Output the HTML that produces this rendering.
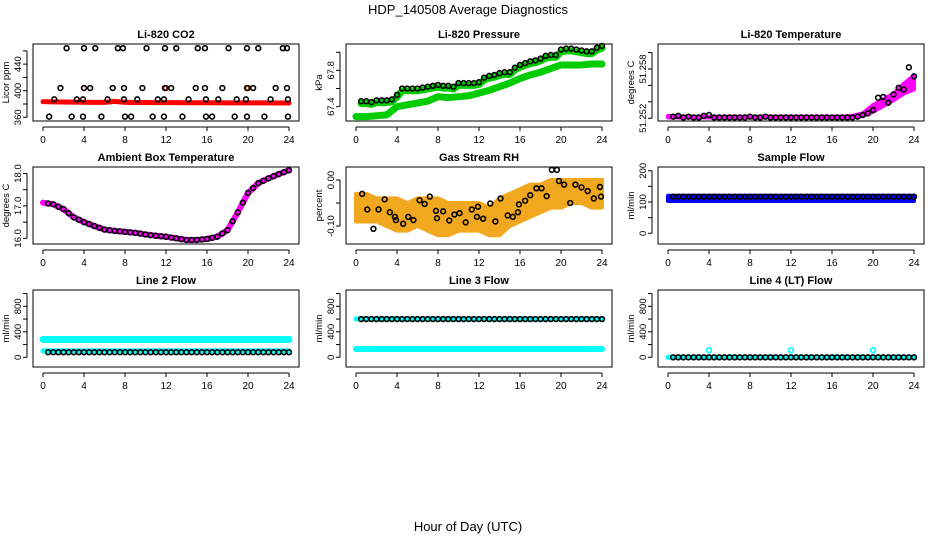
<!DOCTYPE html>
<html><head><meta charset="utf-8">
<style>
body{margin:0;background:#fff;}
svg{display:block;font-family:"Liberation Sans",sans-serif;}
</style></head>
<body>
<svg id="chart" width="936" height="540" viewBox="0 0 936 540">
<text x="468" y="14" text-anchor="middle" font-size="13">HDP_140508  Average Diagnostics</text>
<text x="468" y="531" text-anchor="middle" font-size="13">Hour of Day (UTC)</text>
</svg>
<script>
// ---- data ----
const hoursTicks = [0,4,8,12,16,20,24];
const halfHours = [0.5,1,1.5,2,2.5,3,3.5,4,4.5,5,5.5,6,6.5,7,7.5,8,8.5,9,9.5,10,10.5,11,11.5,12,12.5,13,13.5,14,14.5,15,15.5,16,16.5,17,17.5,18,18.5,19,19.5,20,20.5,21,21.5,22,22.5,23,23.5,24];
const hourly = [0,1,2,3,4,5,6,7,8,9,10,11,12,13,14,15,16,17,18,19,20,21,22,23,24];

// CO2
const co2BlackX = [2.3,4,5.1,7.3,7.8,10.1,11.9,13,15.1,15.8,18.1,19.9,21,23.4,23.8, 1.7,4,4.6,6.8,7.9,9.7,11.9,12.5,14.9,15.8,17.5,19.9,20.5,22.7,23.8, 1.1,3.3,3.9,6.3,7.9,9.2,11.2,11.8,14.2,15.9,17.1,18.9,19.8,22.2,23.9, 0.6,2.8,3.9,5.7,8,8.6,10.7,11.8,13.6,15.9,16.5,18.7,19.9,21.6,23.9];
const co2BlackY = [464,464,464,464,464,464,464,464,464,464,464,464,464,464,464, 404,404,404,404,404,404,404,404,404,404,404,404,404,404,404, 387,387,387,387,387,387,387,387,387,387,387,387,387,387,387, 361,361,361,361,361,361,361,361,361,361,361,361,361,361,361];
const co2RedBand = [383.5,383.2,383,382.8,382.6,382.5,382.4,384,382.5,382.3,382.2,382.1,382,382,381.9,381.9,381.8,381.8,381.7,381.7,381.6,381.6,381.6,381.5,381.5];
const co2RedX = [4,12,20];
const co2RedY = [404,404,404];

// Pressure
const presBlack = [67.46,67.46,67.45,67.47,67.47,67.47,67.48,67.53,67.6,67.6,67.6,67.6,67.61,67.62,67.63,67.64,67.63,67.63,67.62,67.66,67.66,67.66,67.66,67.67,67.72,67.74,67.75,67.77,67.78,67.78,67.83,67.86,67.88,67.9,67.91,67.93,67.96,67.97,67.97,68.03,68.04,68.04,68.03,68.02,68.01,68.01,68.05,68.07];
const presGreenLow = [67.29,67.29,67.3,67.31,67.4,67.42,67.44,67.46,67.51,67.5,67.51,67.52,67.55,67.58,67.62,67.66,67.71,67.75,67.78,67.82,67.86,67.86,67.86,67.87,67.87];

// Li-820 temperature
const tempBlack = [51.2522,51.2523,51.2521,51.2522,51.2521,51.2521,51.2523,51.2524,51.2521,51.2521,51.2521,51.2521,51.2521,51.2521,51.2521,51.2522,51.2521,51.2521,51.2522,51.2521,51.2521,51.2521,51.2521,51.2521,51.2521,51.2521,51.2521,51.2521,51.2521,51.2521,51.2521,51.2521,51.2521,51.2521,51.2521,51.2521,51.2522,51.2524,51.2526,51.2530,51.2545,51.2546,51.2539,51.2549,51.2557,51.2555,51.2582,51.2571];
const tempMagenta = [51.2523,51.2522,51.2522,51.2522,51.2522,51.2522,51.2522,51.2522,51.2522,51.2522,51.2522,51.2522,51.2522,51.2522,51.2522,51.2522,51.2522,51.2522,51.2523,51.2526,51.2536,51.2543,51.2550,51.2562,51.2572];
const tempMagentaLow = [51.2521,51.2521,51.2521,51.2521,51.2521,51.2521,51.2521,51.2521,51.2521,51.2521,51.2521,51.2521,51.2521,51.2521,51.2521,51.2521,51.2521,51.2521,51.2521,51.2523,51.2528,51.2535,51.2542,51.2550,51.2555];

// Ambient box temperature
const ambient = [17.1,17.05,16.9,16.65,16.5,16.38,16.27,16.23,16.2,16.17,16.12,16.08,16.05,16.0,15.95,15.95,15.98,16.05,16.25,16.8,17.4,17.7,17.85,17.98,18.1];

// Gas stream RH
const rhUpper = [-0.03,-0.03,-0.04,-0.04,-0.04,-0.05,-0.04,-0.04,-0.04,-0.05,-0.05,-0.05,-0.05,-0.06,-0.04,-0.03,-0.02,-0.01,-0.01,0.0,0.0,0.0,0.0,0.0,0.0];
const rhLower = [-0.09,-0.09,-0.09,-0.10,-0.11,-0.11,-0.10,-0.11,-0.12,-0.12,-0.11,-0.11,-0.11,-0.12,-0.12,-0.10,-0.09,-0.08,-0.07,-0.06,-0.06,-0.05,-0.05,-0.06,-0.06];
const rhBlackX = [0.6,1.1,1.7,2.2,2.8,3.3,3.8,3.9,4.6,5.1,5.6,6.2,6.7,7.2,7.8,7.9,8.5,9.1,9.6,10.1,10.7,11.3,11.8,11.9,12.4,13.1,13.6,14.1,14.8,15.3,15.8,15.9,16.5,17.0,17.6,18.1,18.6,19.1,19.6,19.8,20.3,20.9,21.4,22.0,22.6,23.2,23.8,23.9];
const rhBlackY = [-0.03,-0.064,-0.106,-0.064,-0.042,-0.07,-0.08,-0.087,-0.095,-0.08,-0.087,-0.044,-0.052,-0.036,-0.067,-0.083,-0.068,-0.088,-0.075,-0.072,-0.092,-0.064,-0.08,-0.058,-0.084,-0.051,-0.09,-0.04,-0.077,-0.08,-0.07,-0.053,-0.045,-0.033,-0.018,-0.018,-0.035,0.022,0.022,-0.002,-0.01,-0.05,-0.01,-0.016,-0.024,-0.04,-0.015,-0.036];

// Flows
const sampleBlack = 117;
const sampleBlueLow = 103, sampleBlueHigh = 120;
const line2Cyan = [280,100];
const line2Black = 80;
const line3Cyan = [600,130];
const line3Black = 600;
const line4Cyan = [0];
const line4SpikeX = [4,12,20];
const line4SpikeY = [110,110,110];
const line4Black = 0;

// ---- drawing ----
const NS = "http://www.w3.org/2000/svg";
const svg = document.getElementById('chart');
function el(tag, attrs, parent){
  const e = document.createElementNS(NS, tag);
  for (const k in attrs) e.setAttribute(k, attrs[k]);
  (parent||svg).appendChild(e);
  return e;
}
const colLeft = [33,346,658], rowTop = [44,167,290], PW = 266, PH = 77;

function makePanel(col,row,title,ylab,dom,ticks,labels,name){
  const L = colLeft[col], T = rowTop[row];
  const g = el('g',{});
  
  
  const xs = h => L + 10 + h*(246/24);
  const ys = v => T + PH - (v-dom[0])/(dom[1]-dom[0])*PH;
  const box = el('rect',{x:L,y:T,width:PW,height:PH,fill:'none',stroke:'#000','stroke-width':1},g);
  
  
  const t = el('text',{x:L+PW/2,y:T-6,'text-anchor':'middle','font-size':11,'font-weight':'bold'},g);
  t.textContent = title;
  
  
  // x axis
  el('line',{x1:xs(0),x2:xs(24),y1:T+PH+6,y2:T+PH+6,stroke:'#000'},g);
  hoursTicks.forEach(h=>{
    el('line',{x1:xs(h),x2:xs(h),y1:T+PH+6,y2:T+PH+10,stroke:'#000'},g);
    const tx = el('text',{x:xs(h),y:T+PH+22,'text-anchor':'middle','font-size':10},g);
    tx.textContent = h;
    
    
  });
  // y axis
  el('line',{x1:L-6,x2:L-6,y1:ys(ticks[0]),y2:ys(ticks[ticks.length-1]),stroke:'#000'},g);
  ticks.forEach((v,i)=>{
    el('line',{x1:L-10,x2:L-6,y1:ys(v),y2:ys(v),stroke:'#000'},g);
    if (labels[i]!==''){
      const tx = el('text',{x:L-12,y:ys(v),'text-anchor':'middle','font-size':9.5,transform:`rotate(-90 ${L-12} ${ys(v)})`},g);
      tx.textContent = labels[i];
      
      
    }
  });
  const yl = el('text',{x:L-24,y:T+PH/2,'text-anchor':'middle','font-size':9.5,transform:`rotate(-90 ${L-24} ${T+PH/2})`},g);
  yl.textContent = ylab;
  
  
  return {g,xs,ys};
}
function circles(p,X,Y,color,name,r){
  X.forEach((x,i)=>{
    const c = el('circle',{cx:p.xs(x),cy:p.ys(Y[i]),r:r||2.4,fill:'none',stroke:color,'stroke-width':1.6},p.g);
    
    
  });
}
function band(p,X,Y,color,width,name){
  const pts = X.map((x,i)=>p.xs(x)+','+p.ys(Y[i])).join(' ');
  const l = el('polyline',{points:pts,fill:'none',stroke:color,'stroke-width':width,'stroke-linejoin':'round','stroke-linecap':'round'},p.g);
  
  
}
function area(p,X,lo,hi,color,name){
  const pts = X.map((x,i)=>p.xs(x)+','+p.ys(hi[i])).concat(X.slice().reverse().map((x,j)=>{const i=X.length-1-j;return p.xs(x)+','+p.ys(lo[i]);})).join(' ');
  const a = el('polygon',{points:pts,fill:color,stroke:color,'stroke-width':4,'stroke-linejoin':'round'},p.g);
  
  
}
const constArr = (v)=>hourly.map(()=>v);
const constHalf = (v)=>halfHours.map(()=>v);

// Panel 1 CO2
let p = makePanel(0,0,'Li-820 CO2','Licor ppm',[354.4,470.3],[360,380,400,420,440,460],['360','','400','','440',''],'co2');
band(p,hourly,co2RedBand,'#ff0000',5,'co2-red-series');
circles(p,co2RedX,co2RedY,'#ff0000','co2-red-point');
circles(p,co2BlackX,co2BlackY,'#000','co2-point');

// Panel 2 Pressure
p = makePanel(1,0,'Li-820 Pressure','kPa',[67.242,68.091],[67.4,67.6,67.8,68.0],['67.4','','67.8',''],'pressure');
band(p,hourly,presGreenLow,'#00cc00',7,'pressure-green-low');
band(p,halfHours,presBlack.map(v=>v-0.025),'#00cc00',7,'pressure-green-high');
circles(p,halfHours,presBlack,'#000','pressure-point');

// Panel 3 Temperature
p = makePanel(2,0,'Li-820 Temperature','degrees C',[51.25167,51.26104],[51.252,51.254,51.256,51.258,51.260],['51.252','','','51.258',''],'temperature');
area(p,hourly,tempMagentaLow,tempMagenta,'#ff00ff','temperature-magenta');
circles(p,halfHours,tempBlack,'#000','temperature-point');

// Panel 4 Ambient
p = makePanel(0,1,'Ambient Box Temperature','degrees C',[15.825,18.2],[16,16.5,17,17.5,18],['16.0','','17.0','','18.0'],'ambient');
band(p,hourly,ambient,'#ff00ff',6,'ambient-magenta');
circles(p,hourly.slice(1).map(h=>h-0.5).concat(hourly.slice(1)).sort((a,b)=>a-b),
  hourly.slice(1).map((h,i)=>(ambient[i]+ambient[i+1])/2).flatMap((v,i)=>[v,ambient[i+1]]),'#000','ambient-point');

// Panel 5 RH
p = makePanel(1,1,'Gas Stream RH','percent',[-0.139,0.0283],[-0.10,-0.05,0.0],['-0.10','','0.00'],'rh');
area(p,hourly,rhLower,rhUpper,'#f2a81e','rh-cloud');
circles(p,rhBlackX,rhBlackY,'#000','rh-point');

// Panel 6 Sample flow
p = makePanel(2,1,'Sample Flow','ml/min',[-34.2,211.8],[0,50,100,150,200],['0','','100','','200'],'sample-flow');
area(p,hourly,constArr(sampleBlueLow),constArr(sampleBlueHigh),'#0000ff','sample-blue');
circles(p,halfHours,constHalf(sampleBlack),'#000','sample-point');

// Row 3 flows
const flowTicks=[0,200,400,600,800,1000], flowLabels=['0','','400','','800',''];
const fdom=[-152,1055.7];
p = makePanel(0,2,'Line 2 Flow','ml/min',fdom,flowTicks,flowLabels,'line2');
band(p,hourly,constArr(line2Cyan[0]),'#00ffff',7,'line2-cyan-high');
band(p,hourly,constArr(line2Cyan[1]),'#00ffff',5,'line2-cyan-low');
circles(p,halfHours,constHalf(line2Black),'#000','line2-point');

p = makePanel(1,2,'Line 3 Flow','ml/min',fdom,flowTicks,flowLabels,'line3');
band(p,hourly,constArr(line3Cyan[1]),'#00ffff',6,'line3-cyan-low');
band(p,hourly,constArr(line3Cyan[0]),'#00ffff',5,'line3-cyan-high');
circles(p,halfHours,constHalf(line3Black),'#000','line3-point');

p = makePanel(2,2,'Line 4 (LT) Flow','ml/min',fdom,flowTicks,flowLabels,'line4');
band(p,hourly,constArr(line4Cyan[0]),'#00ffff',5,'line4-cyan');
circles(p,halfHours,constHalf(line4Black),'#000','line4-point');
circles(p,line4SpikeX,line4SpikeY,'#00ffff','line4-spike');
</script>
</body></html>
